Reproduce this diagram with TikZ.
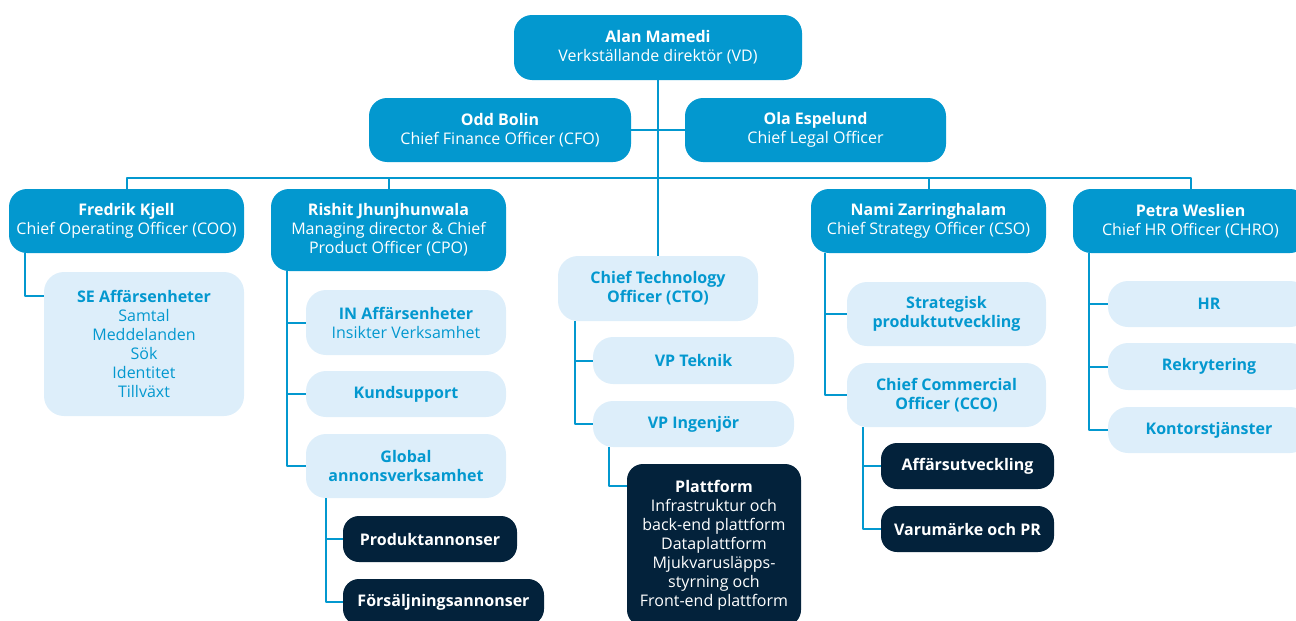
\documentclass[tikz,border=0pt]{standalone}
\usepackage{fontspec}
\setmainfont{Open Sans}

\definecolor{orgblue}{HTML}{0398CF}
\definecolor{orgpale}{HTML}{DDEEFA}
\definecolor{orgnavy}{HTML}{03223B}

\tikzset{
  box/.style={align=center,inner sep=0pt,font=\fontsize{12}{14.25}\selectfont},
  wh/.style 2 args={minimum width=#1*0.75pt,minimum height=#2*0.75pt},
  lead/.style={box,rounded corners=13.5pt,fill=orgblue,text=white},
  unit/.style={box,rounded corners=15pt,fill=orgpale,text=orgblue},
  team/.style={box,rounded corners=12pt,fill=orgnavy,text=white},
  link/.style={draw=orgblue,line width=1.5pt},
}

\begin{document}
\begin{tikzpicture}[x=0.75pt,y=-0.75pt,line join=round]
  \useasboundingbox (0,0) rectangle (1296,621);

  % ledning
  \node[lead,wh={288}{65}] (ceo) at (658,47.5) {\textbf{Alan Mamedi}\\Verkställande direktör (VD)};
  \node[lead,wh={262}{64}] (cfo) at (500,130) {\textbf{Odd Bolin}\\Chief Finance Officer (CFO)};
  \node[lead,wh={261}{64}] (clo) at (815.5,130) {\textbf{Ola Espelund}\\Chief Legal Officer};
  \node[lead,wh={235}{64}] (coo) at (126.5,221) {\textbf{Fredrik Kjell}\\Chief Operating Officer (COO)};
  \node[lead,wh={235}{82}] (cpo) at (388.5,230) {\textbf{Rishit Jhunjhunwala}\\Managing director \& Chief\\Product Officer (CPO)};
  \node[lead,wh={235}{64}] (cso) at (928.5,221) {\textbf{Nami Zarringhalam}\\Chief Strategy Officer (CSO)};
  \node[lead,wh={235}{64}] (chro) at (1190.5,221) {\textbf{Petra Weslien}\\Chief HR Officer (CHRO)};
  \coordinate (bus) at (658,178);

  % COO
  \node[unit,wh={200}{144}] (se) at (144,344) {\textbf{SE Affärsenheter}\\Samtal\\Meddelanden\\Sök\\Identitet\\Tillväxt};

  % CPO
  \node[unit,wh={200}{65}] (in) at (406,322.5) {\textbf{IN Affärsenheter}\\Insikter Verksamhet};
  \node[unit,wh={200}{46}] (kund) at (406,394) {\textbf{Kundsupport}};
  \node[unit,wh={200}{64}] (glob) at (406,466) {\textbf{Global}\\\textbf{annonsverksamhet}};
  \node[team,wh={174}{46}] (prod) at (430,539) {\textbf{Produktannonser}};
  \node[team,wh={201}{46}] (fors) at (443.5,602) {\textbf{Försäljningsannonser}};

  % CTO
  \node[unit,wh={200}{65}] (cto) at (658,288.5) {\textbf{Chief Technology}\\\textbf{Officer (CTO)}};
  \node[unit,wh={201}{47}] (vpt) at (693.5,360.5) {\textbf{VP Teknik}};
  \node[unit,wh={201}{46}] (vpi) at (693.5,424) {\textbf{VP Ingenjör}};
  \node[team,wh={174}{162}] (platt) at (714,545) {\textbf{Plattform}\\Infrastruktur och\\back-end plattform\\Dataplattform\\Mjukvarusläpps-\\styrning och\\Front-end plattform};

  % CSO
  \node[unit,wh={199}{64}] (strat) at (946.5,314) {\textbf{Strategisk}\\\textbf{produktutveckling}};
  \node[unit,wh={199}{64}] (cco) at (946.5,395) {\textbf{Chief Commercial}\\\textbf{Officer (CCO)}};
  \node[team,wh={173}{46}] (aff) at (967.5,466) {\textbf{Affärsutveckling}};
  \node[team,wh={173}{46}] (varu) at (967.5,529) {\textbf{Varumärke och PR}};

  % CHRO
  \node[unit,wh={202}{46}] (hr) at (1209,304) {\textbf{HR}};
  \node[unit,wh={202}{47}] (rek) at (1209,366.5) {\textbf{Rekrytering}};
  \node[unit,wh={202}{46}] (kontor) at (1209,430) {\textbf{Kontorstjänster}};

  % linjer
  \draw[link] (ceo) -- (cto);
  \draw[link] (cfo) -- (clo);
  \draw[link] (coo.north) |- (bus) -| (chro.north);
  \draw[link] (cpo.north) -- (cpo.north |- bus);
  \draw[link] (cso.north) -- (cso.north |- bus);

  \draw[link] ([xshift=12pt]coo.south west) |- ([yshift=-18pt]se.north west);
  \draw[link] ([xshift=12pt]cpo.south west) |- (in);
  \draw[link] ([xshift=12pt]cpo.south west) |- (kund);
  \draw[link] ([xshift=12pt]cpo.south west) |- (glob);
  \draw[link] ([xshift=15pt]glob.south west) |- (prod);
  \draw[link] ([xshift=15pt]glob.south west) |- (fors);
  \draw[link] ([xshift=13pt]cto.south west) |- (vpt);
  \draw[link] ([xshift=13pt]cto.south west) |- (vpi);
  \draw[link] ([xshift=12pt]vpi.south west) |- ([yshift=-17pt]platt.north west);
  \draw[link] ([xshift=11pt]cso.south west) |- (strat);
  \draw[link] ([xshift=11pt]cso.south west) |- (cco);
  \draw[link] ([xshift=12pt]cco.south west) |- (aff);
  \draw[link] ([xshift=12pt]cco.south west) |- (varu);
  \draw[link] ([xshift=12pt]chro.south west) |- (hr);
  \draw[link] ([xshift=12pt]chro.south west) |- (rek);
  \draw[link] ([xshift=12pt]chro.south west) |- (kontor);
\end{tikzpicture}
\end{document}
